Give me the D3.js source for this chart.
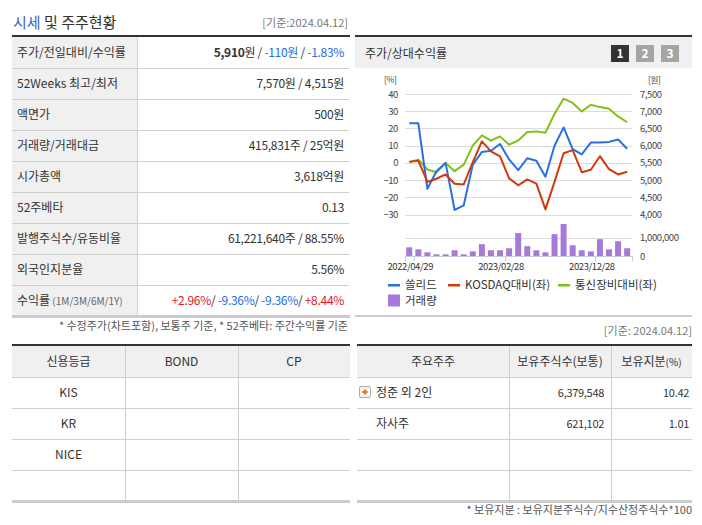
<!DOCTYPE html>
<html>
<head>
<meta charset="utf-8">
<script src="https://cdn.jsdelivr.net/npm/d3@7"></script>
<style>
  body { margin: 0; background: #fff; }
  svg { display: block; font-family: "Noto Sans CJK KR", "Noto Sans", sans-serif; }
</style>
</head>
<body>
<svg id="page" width="702" height="525"></svg>
<script>
// ---- data ----
var summaryLabels = ["주가/전일대비/수익률", "52Weeks 최고/최저", "액면가", "거래량/거래대금", "시가총액",
                     "52주베타", "발행주식수/유동비율", "외국인지분율", "수익률"];
var summaryValues = [null, "7,570원 / 4,515원", "500원", "415,831주 / 25억원", "3,618억원",
                     "0.13", "61,221,640주 / 88.55%", "5.56%", null];
var priceNow = "5,910", priceChange = "-110", priceChangePct = "-1.83";
var returnPeriods = "(1M/3M/6M/1Y)";
var returnValues = ["+2.96", "-9.36", "-9.36", "+8.44"];

var dates = ["2022/04/29", "2022/05/31", "2022/06/30", "2022/07/29", "2022/08/31", "2022/09/30",
             "2022/10/31", "2022/11/30", "2022/12/29", "2023/01/31", "2023/02/28", "2023/03/31",
             "2023/04/28", "2023/05/31", "2023/06/30", "2023/07/31", "2023/08/31", "2023/09/27",
             "2023/10/31", "2023/11/30", "2023/12/28", "2024/01/31", "2024/02/29", "2024/03/29",
             "2024/04/12"];
var dateLabels = ["2022/04/29", "2023/02/28", "2023/12/28"];
var priceSolid = [6650, 6650, 4750, 5260, 5500, 4135, 4270, 5450, 5815, 5855, 6050, 5600, 5290,
                  5635, 5565, 5100, 6000, 6530, 5900, 5750, 6090, 6090, 6110, 6180, 5910];
var vsKosdaq = [0.6, 1.3, -11, -9.2, -6.7, -12.1, -12.5, 0.5, 12.5, 6.7, 3.8, -9, -13,
                -9.6, -12, -27, -11, 5.6, 7.4, -5.4, -4, 3.9, -3.6, -6.7, -5.1];
var vsSector = [0.6, 1.9, -3.8, -5.4, 0, -4.8, -1, 10, 16, 12.9, 15.4, 10.6, 13,
                17.9, 18.3, 17.5, 28.5, 37.3, 34.8, 29.9, 33.8, 32.4, 31.4, 27, 23.6];
var volume = [470000, 360000, 200000, 90000, 90000, 310000, 90000, 250000, 640000, 310000,
              310000, 420000, 1240000, 530000, 310000, 200000, 1180000, 1730000, 580000,
              310000, 250000, 910000, 360000, 800000, 420000];
var pctTicks = [40, 30, 20, 10, 0, -10, -20, -30];
var priceTicks = [7500, 7000, 6500, 6000, 5500, 5000, 4500, 4000];
var volumeTicks = [0, 1000000];
var legendNames = ["쏠리드", "KOSDAQ대비(좌)", "통신장비대비(좌)", "거래량"];

var ratingHeaders = ["신용등급", "BOND", "CP"];
var ratingAgencies = ["KIS", "KR", "NICE", ""];
var holderHeaders = ["주요주주", "보유주식수", "보유지분"];
var holderHeaderSubs = ["", "(보통)", "(%)"];
var holderNames = ["정준 외 2인", "자사주", "", ""];
var holderShares = ["6,379,548", "621,102", "", ""];
var holderRatios = ["10.42", "1.01", "", ""];

var baseDate = "2024.04.12";

// ---- colours ----
var C = {
  dark: "#333", line: "#cfcfcf", head: "#f0f0f0", text: "#333", gray: "#777",
  up: "#e8141e", down: "#1a6ee6",
  blue: "#2a6fe0", red: "#d2380c", green: "#82bf18", purple: "#a77ad9"
};

var svg = d3.select("#page");
function signColor(s) { return s.charAt(0) === "-" ? C.down : C.up; }

// ================= left summary table =================
svg.append("text").attr("x", 13).attr("y", 28).attr("font-size", 15).attr("fill", C.text)
  .call(function (t) {
    t.append("tspan").attr("fill", "#3a5fd6").text("시세");
    t.append("tspan").text(" 및 주주현황");
  });
svg.append("text").attr("x", 348).attr("y", 27).attr("text-anchor", "end")
  .attr("font-size", 11).attr("fill", C.gray).text("[기준:" + baseDate + "]");

var rowH = 31, top0 = 37;
var rows = svg.append("g");
rows.append("rect").attr("x", 12).attr("y", top0).attr("width", 125)
  .attr("height", rowH * summaryLabels.length).attr("fill", C.head);
summaryLabels.forEach(function (lab, i) {
  var y = top0 + rowH * i;
  if (i > 0) rows.append("line").attr("x1", 12).attr("x2", 349).attr("y1", y + 0.5).attr("y2", y + 0.5)
    .attr("stroke", C.line);
  var t = rows.append("text").attr("x", 17).attr("y", y + 20).attr("font-size", 12).attr("fill", C.text);
  t.append("tspan").text(lab);
  if (i === summaryLabels.length - 1)
    t.append("tspan").attr("font-size", 10).attr("fill", "#666").text(" " + returnPeriods);

  var v = rows.append("text").attr("x", 344).attr("y", y + 20).attr("text-anchor", "end")
    .attr("font-size", 12).attr("fill", C.text).attr("letter-spacing", -0.3);
  if (i === 0) {
    v.append("tspan").attr("font-weight", "bold").text(priceNow);
    v.append("tspan").text("원 / ");
    v.append("tspan").attr("fill", signColor(priceChange)).text(priceChange + "원");
    v.append("tspan").text(" / ");
    v.append("tspan").attr("fill", signColor(priceChangePct)).text(priceChangePct + "%");
  } else if (i === summaryLabels.length - 1) {
    returnValues.forEach(function (r, k) {
      v.append("tspan").attr("fill", signColor(r)).text((k ? " " : "") + r + "%");
      if (k < returnValues.length - 1) v.append("tspan").text("/");
    });
  } else {
    v.text(summaryValues[i]);
  }
});
rows.append("line").attr("x1", 137.5).attr("x2", 137.5).attr("y1", top0)
  .attr("y2", top0 + rowH * summaryLabels.length).attr("stroke", C.line);
svg.append("rect").attr("x", 12).attr("y", 35).attr("width", 338).attr("height", 2).attr("fill", C.dark);
svg.append("rect").attr("x", 12).attr("y", 315).attr("width", 338).attr("height", 3).attr("fill", "#ccc");
svg.append("text").attr("x", 348).attr("y", 330).attr("text-anchor", "end").attr("font-size", 11)
  .attr("fill", "#555").text("* 수정주가(차트포함), 보통주 기준, * 52주베타: 주간수익률 기준");

// ================= right chart panel =================
svg.append("rect").attr("x", 355).attr("y", 37).attr("width", 337).attr("height", 31).attr("fill", C.head);
svg.append("rect").attr("x", 355).attr("y", 35).attr("width", 337).attr("height", 2).attr("fill", C.dark);
svg.append("text").attr("x", 365).attr("y", 58).attr("font-size", 12).attr("fill", C.text).text("주가/상대수익률");
["1", "2", "3"].forEach(function (b, i) {
  var bx = 611 + i * 25;
  svg.append("rect").attr("x", bx).attr("y", 45).attr("width", 18).attr("height", 17)
    .attr("fill", i === 0 ? "#333" : "#a5a5a5");
  svg.append("text").attr("x", bx + 9).attr("y", 58).attr("text-anchor", "middle")
    .attr("font-size", 12).attr("font-weight", "bold").attr("fill", "#fff").text(b);
});

var x = d3.scaleBand().domain(dates).range([404.7, 631.7]);
var yPct = d3.scaleLinear().domain([-30, 40]).range([214.6, 94]);
var yPrice = d3.scaleLinear().domain([4000, 7500]).range([214.6, 94]);
var yVol = d3.scaleLinear().domain([0, 1000000]).range([256, 237.5]);
var cx = function (d) { return x(d) + x.bandwidth() / 2; };

var chart = svg.append("g").attr("font-size", 9).attr("letter-spacing", -0.4);

// grid
chart.selectAll("line.grid").data(pctTicks).enter().append("line")
  .attr("x1", 405).attr("x2", 632).attr("y1", function (d) { return Math.round(yPct(d)) + 0.5; })
  .attr("y2", function (d) { return Math.round(yPct(d)) + 0.5; }).attr("stroke", "#dcdcdc");
chart.selectAll("line.vgrid").data(volumeTicks).enter().append("line")
  .attr("x1", 405).attr("x2", 632).attr("y1", function (d) { return Math.round(yVol(d)) + 0.5; })
  .attr("y2", function (d) { return Math.round(yVol(d)) + 0.5; })
  .attr("stroke", function (d) { return d === 0 ? "#c5cddb" : "#dcdcdc"; });

// axes
var axL = chart.append("g").attr("transform", "translate(398,0)")
  .call(d3.axisLeft(yPct).tickValues(pctTicks).tickSize(0).tickPadding(0));
var axR = chart.append("g").attr("transform", "translate(640,0)")
  .call(d3.axisRight(yPrice).tickValues(priceTicks).tickSize(0).tickPadding(0).tickFormat(d3.format(",")));
var axV = chart.append("g").attr("transform", "translate(640,0)")
  .call(d3.axisRight(yVol).tickValues(volumeTicks).tickSize(0).tickPadding(0).tickFormat(d3.format(",")));
[axL, axR, axV].forEach(function (a) {
  a.select(".domain").remove();
  a.selectAll("text").attr("fill", "#444").attr("font-size", 9.5).attr("font-family", null);
  a.attr("font-family", null);
});
chart.append("text").attr("x", 384).attr("y", 83).attr("font-size", 8.5).attr("fill", "#444").text("[%]");
chart.append("text").attr("x", 648).attr("y", 83).attr("font-size", 8.5).attr("fill", "#444").text("[원]");

// volume bars
chart.selectAll("rect.vol").data(volume).enter().append("rect")
  .attr("x", function (d, i) { return cx(dates[i]) - 3; })
  .attr("width", 6)
  .attr("y", function (d) { return yVol(d); })
  .attr("height", function (d) { return yVol(0) - yVol(d); })
  .attr("fill", C.purple);

// x axis ticks
var tickIdx = dateLabels.map(function (d) { return dates.indexOf(d); });
var tickXs = [x.range()[0]].concat(tickIdx.map(function (i) { return x(dates[i]) + x.bandwidth(); }), [x.range()[1]]);
chart.selectAll("line.xt").data(tickXs).enter().append("line")
  .attr("x1", function (d) { return Math.round(d) + 0.5; }).attr("x2", function (d) { return Math.round(d) + 0.5; })
  .attr("y1", 256).attr("y2", 261).attr("stroke", "#c5cddb");
chart.selectAll("text.xl").data(dateLabels).enter().append("text")
  .attr("x", function (d) { return cx(d) + 1; }).attr("y", 270).attr("text-anchor", "middle")
  .attr("font-size", 9.5).attr("fill", "#333").text(function (d) { return d; });

// lines
var linePct = d3.line().x(function (d, i) { return cx(dates[i]); }).y(function (d) { return yPct(d); });
var linePrice = d3.line().x(function (d, i) { return cx(dates[i]); }).y(function (d) { return yPrice(d); });
chart.append("path").datum(vsSector).attr("d", linePct).attr("fill", "none")
  .attr("stroke", C.green).attr("stroke-width", 2).attr("stroke-linejoin", "round");
chart.append("path").datum(priceSolid).attr("d", linePrice).attr("fill", "none")
  .attr("stroke", C.blue).attr("stroke-width", 2).attr("stroke-linejoin", "round");
chart.append("path").datum(vsKosdaq).attr("d", linePct).attr("fill", "none")
  .attr("stroke", C.red).attr("stroke-width", 2).attr("stroke-linejoin", "round");

// legend
var legend = svg.append("g").attr("font-size", 11.5).attr("fill", C.text);
var legendPos = [[388, 285], [448, 285], [558, 285], [388, 300.5]];
var legendCols = [C.blue, C.red, C.green, C.purple];
legendNames.forEach(function (n, i) {
  var p = legendPos[i];
  if (i < 3) legend.append("rect").attr("x", p[0]).attr("y", p[1] - 1).attr("width", 12).attr("height", 2.5)
    .attr("fill", legendCols[i]);
  else legend.append("rect").attr("x", p[0]).attr("y", p[1] - 6).attr("width", 12).attr("height", 12)
    .attr("fill", legendCols[i]);
  legend.append("text").attr("x", p[0] + 17).attr("y", p[1] + 4).text(n);
});
svg.append("rect").attr("x", 355).attr("y", 315).attr("width", 337).attr("height", 2).attr("fill", "#ccc");
svg.append("text").attr("x", 692).attr("y", 335).attr("text-anchor", "end").attr("font-size", 11)
  .attr("fill", C.gray).text("[기준: " + baseDate + "]");

// ================= bottom tables =================
function drawTable(x0, colXs, x1, cells) {
  var g = svg.append("g");
  var ty = 345, hh = 32, rh = 31, n = 4;
  g.append("rect").attr("x", x0).attr("y", ty).attr("width", x1 - x0).attr("height", hh).attr("fill", C.head);
  for (var r = 1; r < n; r++) {
    var yy = ty + hh + rh * r;
    g.append("line").attr("x1", x0).attr("x2", x1).attr("y1", yy + 0.5).attr("y2", yy + 0.5).attr("stroke", C.line);
  }
  g.append("line").attr("x1", x0).attr("x2", x1).attr("y1", ty + hh + 0.5).attr("y2", ty + hh + 0.5).attr("stroke", C.line);
  colXs.forEach(function (cxp) {
    g.append("line").attr("x1", cxp + 0.5).attr("x2", cxp + 0.5).attr("y1", ty).attr("y2", ty + hh + rh * n)
      .attr("stroke", C.line);
  });
  g.append("rect").attr("x", x0).attr("y", ty - 1).attr("width", x1 - x0).attr("height", 2).attr("fill", C.dark);
  g.append("rect").attr("x", x0).attr("y", ty + hh + rh * n - 1).attr("width", x1 - x0).attr("height", 3).attr("fill", "#ccc");
  cells(g, ty, hh, rh);
}

var lcols = [12, 125, 238, 350];
drawTable(12, [125, 238], 350, function (g, ty, hh, rh) {
  ratingHeaders.forEach(function (h, i) {
    g.append("text").attr("x", (lcols[i] + lcols[i + 1]) / 2).attr("y", ty + 21).attr("text-anchor", "middle")
      .attr("font-size", 12).attr("fill", C.text).text(h);
  });
  ratingAgencies.forEach(function (a, r) {
    g.append("text").attr("x", (lcols[0] + lcols[1]) / 2).attr("y", ty + hh + rh * r + 20)
      .attr("text-anchor", "middle").attr("font-size", 12).attr("fill", C.text).text(a);
  });
});

var rcols = [357, 509, 611, 692];
drawTable(357, [509, 611], 692, function (g, ty, hh, rh) {
  holderHeaders.forEach(function (h, i) {
    var t = g.append("text").attr("x", (rcols[i] + rcols[i + 1]) / 2).attr("y", ty + 21)
      .attr("text-anchor", "middle").attr("font-size", 12).attr("fill", C.text);
    t.append("tspan").text(h);
    if (holderHeaderSubs[i]) t.append("tspan").attr("font-size", i === 2 ? 10 : 12).text(holderHeaderSubs[i]);
  });
  holderNames.forEach(function (nm, r) {
    var yy = ty + hh + rh * r + 20;
    if (r === 0) {
      g.append("rect").attr("x", 359.5).attr("y", yy - 10.5).attr("width", 11).attr("height", 11)
        .attr("fill", "#f4f4f4").attr("stroke", "#aaa").attr("rx", 1.5);
      g.append("path").attr("d", "M362.5," + (yy - 5) + "h5M365," + (yy - 7.5) + "v5")
        .attr("stroke", "#f07010").attr("stroke-width", 2);
    }
    g.append("text").attr("x", 376).attr("y", yy).attr("font-size", 12).attr("fill", C.text).text(nm);
    g.append("text").attr("x", 604).attr("y", yy).attr("text-anchor", "end").attr("font-size", 11)
      .attr("letter-spacing", -0.3).attr("fill", C.text).text(holderShares[r]);
    g.append("text").attr("x", 689).attr("y", yy).attr("text-anchor", "end").attr("font-size", 11)
      .attr("letter-spacing", -0.3).attr("fill", C.text).text(holderRatios[r]);
  });
});
svg.append("text").attr("x", 692).attr("y", 514).attr("text-anchor", "end").attr("font-size", 11)
  .attr("fill", "#555").text("* 보유지분 : 보유지분주식수/지수산정주식수*100");
</script>
</body>
</html>
